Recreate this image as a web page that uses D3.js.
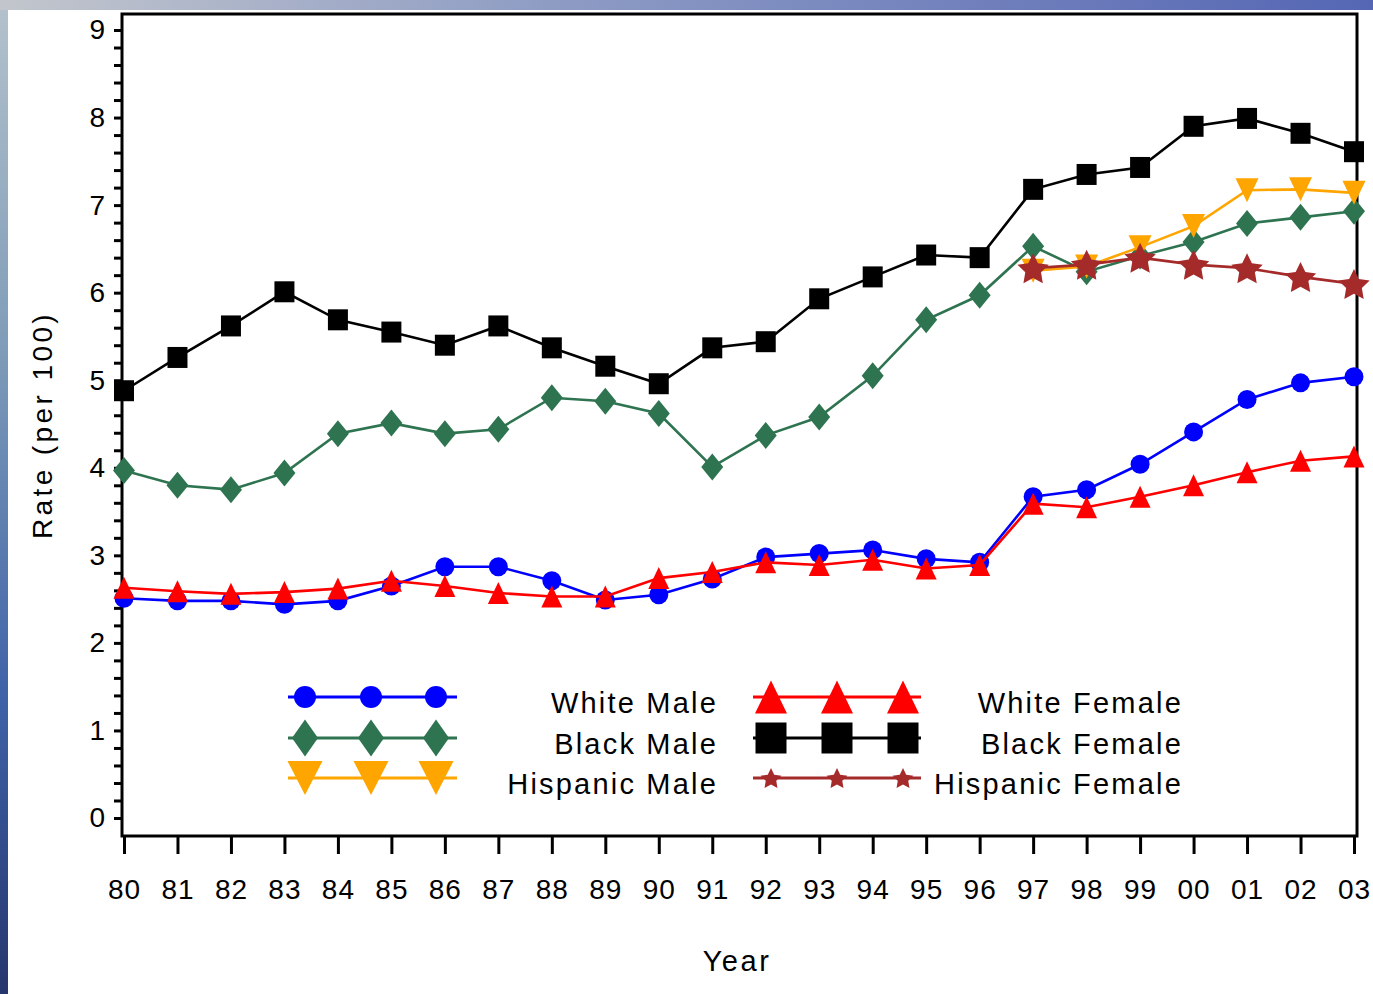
<!DOCTYPE html>
<html>
<head>
<meta charset="utf-8">
<script src="https://cdn.jsdelivr.net/npm/d3@7"></script>
<style>
  body { margin: 0; overflow: hidden; }
  text { font-family: "Liberation Sans", Arial, sans-serif; fill: #000; }
</style>
</head>
<body>
<svg id="chart" width="1373" height="994"></svg>
<script>
const years = ["80","81","82","83","84","85","86","87","88","89","90","91",
               "92","93","94","95","96","97","98","99","00","01","02","03"];
const hispYears = ["97","98","99","00","01","02","03"];

const whiteMale   = [2.51,2.48,2.48,2.44,2.48,2.65,2.87,2.87,2.71,2.49,2.55,2.73,2.98,3.02,3.06,2.96,2.92,3.67,3.75,4.04,4.41,4.78,4.97,5.04];
const whiteFemale = [2.63,2.59,2.56,2.58,2.62,2.71,2.65,2.57,2.53,2.53,2.74,2.81,2.92,2.89,2.95,2.85,2.89,3.59,3.55,3.67,3.80,3.95,4.08,4.13];
const blackMale   = [3.97,3.80,3.75,3.94,4.39,4.51,4.39,4.44,4.80,4.76,4.62,4.01,4.37,4.58,5.05,5.69,5.97,6.53,6.24,6.42,6.58,6.79,6.86,6.93];
const blackFemale = [4.88,5.26,5.62,6.01,5.69,5.55,5.40,5.62,5.37,5.16,4.96,5.37,5.44,5.93,6.18,6.43,6.40,7.18,7.35,7.43,7.90,7.99,7.82,7.61];
const hispMale    = [6.25,6.30,6.52,6.76,7.17,7.18,7.14];
const hispFemale  = [6.28,6.32,6.40,6.32,6.28,6.18,6.10];

const yTicks = d3.range(0, 9.001, 0.2).map(d => +d.toFixed(1));

const svg = d3.select("#chart");
const width = +svg.attr("width");
const height = +svg.attr("height");

// backdrop (slide picture edges)
const defs = svg.append("defs");
const gv = defs.append("linearGradient").attr("id", "leftbg").attr("x1", 0).attr("y1", 0).attr("x2", 0).attr("y2", 1);
gv.append("stop").attr("offset", "0%").attr("stop-color", "#b4c2cc");
gv.append("stop").attr("offset", "35%").attr("stop-color", "#7f9cb8");
gv.append("stop").attr("offset", "70%").attr("stop-color", "#3f62a8");
gv.append("stop").attr("offset", "100%").attr("stop-color", "#26366e");
const gh = defs.append("linearGradient").attr("id", "topbg").attr("x1", 0).attr("y1", 0).attr("x2", 1).attr("y2", 0);
gh.append("stop").attr("offset", "0%").attr("stop-color", "#c2c6cc");
gh.append("stop").attr("offset", "40%").attr("stop-color", "#8e9cc4");
gh.append("stop").attr("offset", "100%").attr("stop-color", "#5566b4");

svg.append("rect").attr("width", width).attr("height", height).attr("fill", "url(#leftbg)");
svg.append("rect").attr("width", width).attr("height", 10).attr("fill", "url(#topbg)");
svg.append("rect").attr("x", 8).attr("y", 10).attr("width", width - 8).attr("height", height - 10).attr("fill", "#fff");

const plotLeft = 122, plotRight = 1357, plotTop = 14, plotBottom = 836;

const x = d3.scalePoint().domain(years).range([124, 1354]);
const y = d3.scaleLinear().domain([0, 9]).range([818, 30]);

// Y axis
const yAxis = svg.append("g")
  .attr("transform", `translate(${plotLeft},0)`)
  .call(d3.axisLeft(y).tickValues(yTicks).tickSize(8).tickPadding(9)
    .tickFormat(d => Number.isInteger(d) ? d : ""));
yAxis.select(".domain").remove();
yAxis.selectAll(".tick line").attr("stroke", "#000").attr("stroke-width", 3);
yAxis.selectAll(".tick text").attr("font-size", 28).attr("font-family", "Liberation Sans, Arial, sans-serif");

// X axis
const xAxis = svg.append("g")
  .attr("transform", `translate(0,${plotBottom})`)
  .call(d3.axisBottom(x).tickSize(18).tickPadding(25));
xAxis.select(".domain").remove();
xAxis.selectAll(".tick line").attr("stroke", "#000").attr("stroke-width", 3);
xAxis.selectAll(".tick text").attr("font-size", 28).attr("letter-spacing", 1)
  .attr("font-family", "Liberation Sans, Arial, sans-serif");

// frame
svg.append("rect")
  .attr("x", plotLeft).attr("y", plotTop)
  .attr("width", plotRight - plotLeft).attr("height", plotBottom - plotTop)
  .attr("fill", "none").attr("stroke", "#000").attr("stroke-width", 3);

// axis titles
svg.append("text")
  .attr("transform", "translate(52,425) rotate(-90)")
  .attr("text-anchor", "middle")
  .attr("font-size", 28).attr("letter-spacing", 3.4)
  .text("Rate (per 100)");

svg.append("text")
  .attr("x", 737).attr("y", 971)
  .attr("text-anchor", "middle")
  .attr("font-size", 29).attr("letter-spacing", 2.5)
  .text("Year");

// marker shapes
function shapePath(shape, w, h) {
  if (shape === "circle") {
    const r = w / 2;
    return `M${-r},0A${r},${r} 0 1,0 ${r},0A${r},${r} 0 1,0 ${-r},0Z`;
  }
  if (shape === "square") return `M${-w/2},${-h/2}H${w/2}V${h/2}H${-w/2}Z`;
  if (shape === "diamond") return `M0,${-h/2}L${w/2},0L0,${h/2}L${-w/2},0Z`;
  if (shape === "triUp") return `M0,${-h/2}L${w/2},${h/2}L${-w/2},${h/2}Z`;
  if (shape === "triDown") return `M${-w/2},${-h/2}L${w/2},${-h/2}L0,${h/2}Z`;
  if (shape === "star") {
    const R = w / 2, r = R * 0.5, pts = [];
    for (let i = 0; i < 10; i++) {
      const a = -Math.PI / 2 + i * Math.PI / 5;
      const rad = i % 2 === 0 ? R : r;
      pts.push([rad * Math.cos(a), rad * Math.sin(a) + R * 0.1]);
    }
    return "M" + pts.map(p => p.join(",")).join("L") + "Z";
  }
}

const series = [
  { name: "White Male",      cats: years,     values: whiteMale,   color: "#0000ff", shape: "circle",  size: [19, 19], lsize: [22, 22], col: 0, row: 0 },
  { name: "Black Male",      cats: years,     values: blackMale,   color: "#2e7450", shape: "diamond", size: [22, 27], lsize: [26, 37], col: 0, row: 1 },
  { name: "Hispanic Male",   cats: hispYears, values: hispMale,    color: "#ffa500", shape: "triDown", size: [23, 24], lsize: [35, 34], col: 0, row: 2 },
  { name: "White Female",    cats: years,     values: whiteFemale, color: "#ff0000", shape: "triUp",   size: [21, 22], lsize: [32, 33], col: 1, row: 0 },
  { name: "Black Female",    cats: years,     values: blackFemale, color: "#000000", shape: "square",  size: [20, 21], lsize: [31, 31], col: 1, row: 1 },
  { name: "Hispanic Female", cats: hispYears, values: hispFemale,  color: "#a52a2a", shape: "star",    size: [33, 33], lsize: [22, 22], col: 1, row: 2 }
];

const line = d3.line().x(d => x(d.year)).y(d => y(d.value));

series.forEach(s => {
  const pts = s.cats.map((c, i) => ({ year: c, value: s.values[i] }));
  const g = svg.append("g");
  g.append("path")
    .datum(pts)
    .attr("d", line)
    .attr("fill", "none")
    .attr("stroke", s.color)
    .attr("stroke-width", 2.6);
  g.selectAll("path.mark")
    .data(pts)
    .enter()
    .append("path")
    .attr("class", "mark")
    .attr("transform", d => `translate(${x(d.year)},${y(d.value)})`)
    .attr("d", shapePath(s.shape, s.size[0], s.size[1]))
    .attr("fill", s.color);
});

// legend
const legCols = [
  { x0: 288, x1: 457, marks: [305, 371, 436], textX: 718 },
  { x0: 753, x1: 921, marks: [771, 837, 903], textX: 1183 }
];
const legRows = [697, 738, 778];

series.forEach(s => {
  const c = legCols[s.col];
  const ly = legRows[s.row];
  const g = svg.append("g");
  g.append("line")
    .attr("x1", c.x0).attr("x2", c.x1)
    .attr("y1", ly).attr("y2", ly)
    .attr("stroke", s.color).attr("stroke-width", 3);
  c.marks.forEach(mx => {
    g.append("path")
      .attr("transform", `translate(${mx},${ly})`)
      .attr("d", shapePath(s.shape, s.lsize[0], s.lsize[1]))
      .attr("fill", s.color);
  });
  g.append("text")
    .attr("x", c.textX).attr("y", ly + 16)
    .attr("text-anchor", "end")
    .attr("font-size", 29).attr("letter-spacing", 2.2)
    .text(s.name);
});
</script>
</body>
</html>
